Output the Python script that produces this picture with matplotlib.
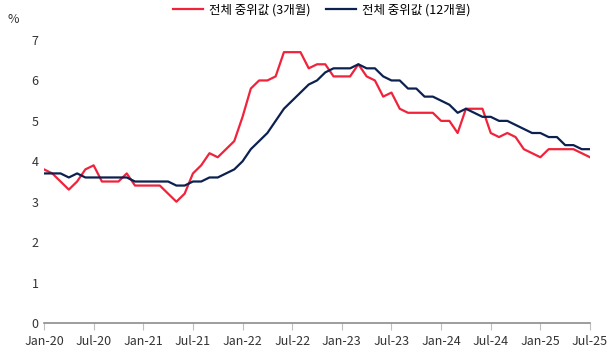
import numpy as np
import matplotlib.pyplot as plt

plt.rcParams['font.family'] = ['Noto Sans CJK KR', 'DejaVu Sans']

# monthly, Jan-20 .. Jul-25
median_3m = [3.8, 3.7, 3.5, 3.3, 3.5, 3.8, 3.9, 3.5, 3.5, 3.5, 3.7, 3.4,
             3.4, 3.4, 3.4, 3.2, 3.0, 3.2, 3.7, 3.9, 4.2, 4.1, 4.3, 4.5,
             5.1, 5.8, 6.0, 6.0, 6.1, 6.7, 6.7, 6.7, 6.3, 6.4, 6.4, 6.1,
             6.1, 6.1, 6.4, 6.1, 6.0, 5.6, 5.7, 5.3, 5.2, 5.2, 5.2, 5.2,
             5.0, 5.0, 4.7, 5.3, 5.3, 5.3, 4.7, 4.6, 4.7, 4.6, 4.3, 4.2,
             4.1, 4.3, 4.3, 4.3, 4.3, 4.2, 4.1]
median_12m = [3.7, 3.7, 3.7, 3.6, 3.7, 3.6, 3.6, 3.6, 3.6, 3.6, 3.6, 3.5,
              3.5, 3.5, 3.5, 3.5, 3.4, 3.4, 3.5, 3.5, 3.6, 3.6, 3.7, 3.8,
              4.0, 4.3, 4.5, 4.7, 5.0, 5.3, 5.5, 5.7, 5.9, 6.0, 6.2, 6.3,
              6.3, 6.3, 6.4, 6.3, 6.3, 6.1, 6.0, 6.0, 5.8, 5.8, 5.6, 5.6,
              5.5, 5.4, 5.2, 5.3, 5.2, 5.1, 5.1, 5.0, 5.0, 4.9, 4.8, 4.7,
              4.7, 4.6, 4.6, 4.4, 4.4, 4.3, 4.3]
tick_labels = ['Jan-20', 'Jul-20', 'Jan-21', 'Jul-21', 'Jan-22', 'Jul-22',
               'Jan-23', 'Jul-23', 'Jan-24', 'Jul-24', 'Jan-25', 'Jul-25']
series_names = ['전체 중위값 (3개월)', '전체 중위값 (12개월)']

x = np.arange(len(median_3m))

fig = plt.figure(figsize=(6.13, 3.6), dpi=100)
ax = fig.add_axes([0.0718, 0.1028, 0.8907, 0.786])

ax.plot(x, median_3m, color='#F0233B', lw=1.6, label=series_names[0])
ax.plot(x, median_12m, color='#0C2150', lw=1.6, label=series_names[1])

ax.set_xlim(0, len(x) - 1)
ax.set_ylim(0, 7)
ax.set_xticks(np.arange(0, len(x), 6))
ax.set_xticklabels(tick_labels)
ax.set_yticks(range(8))

for s in ['top', 'right', 'left']:
    ax.spines[s].set_visible(False)
ax.spines['bottom'].set_color('#8c8c8c')
ax.spines['bottom'].set_linewidth(1.2)
ax.tick_params(axis='x', direction='out', length=5, color='#bfbfbf',
               labelsize=9, labelcolor='#333333', pad=4)
ax.tick_params(axis='y', length=0, labelsize=9, labelcolor='#333333', pad=4)

fig.text(0.013, 0.935, '%', fontsize=9, color='#333333')

fig.legend(loc='center', bbox_to_anchor=(0.525, 0.972), ncol=2, frameon=False,
           fontsize=9, handlelength=2.4, columnspacing=1.2, handletextpad=0.5)

fig.savefig('out.png', dpi=100)
